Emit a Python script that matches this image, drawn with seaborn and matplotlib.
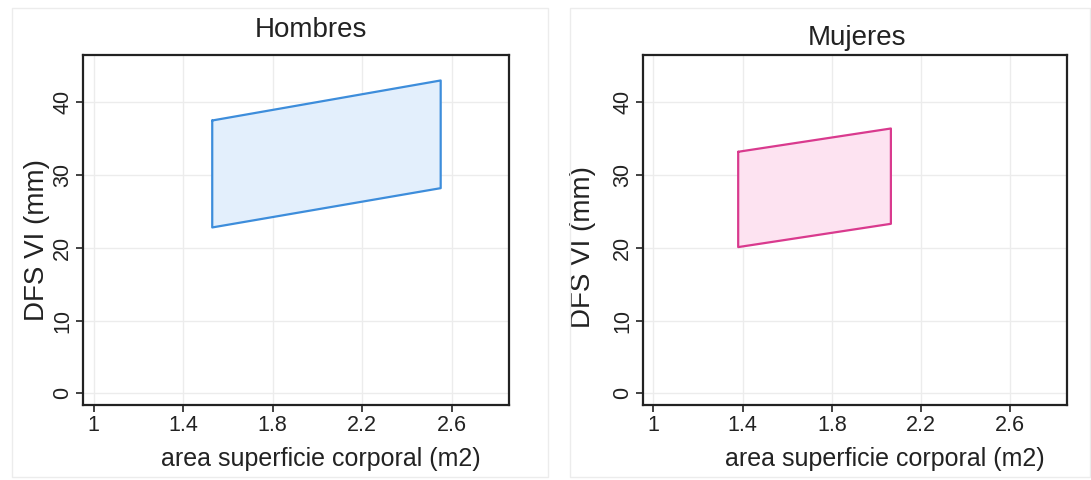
import matplotlib
matplotlib.use("Agg")
import matplotlib.pyplot as plt
import seaborn as sns
import pandas as pd
from matplotlib.patches import Rectangle

sns.set_style("white")
plt.rcParams['font.family'] = ['Liberation Sans', 'DejaVu Sans']

# Data
panels = ["Hombres", "Mujeres"]
x_hombres = [1.53, 2.55]
upper_hombres = [37.5, 43.0]
lower_hombres = [22.8, 28.2]
x_mujeres = [1.38, 2.065]
upper_mujeres = [33.2, 36.4]
lower_mujeres = [20.1, 23.3]
x_ticks = [1, 1.4, 1.8, 2.2, 2.6]
x_tick_labels = ["1", "1.4", "1.8", "2.2", "2.6"]
y_ticks = [0, 10, 20, 30, 40]
edge_colors = ["#3d8ddb", "#d93a8e"]
fill_colors = ["#e3effc", "#fde3f1"]

series = [(x_hombres, upper_hombres, lower_hombres),
          (x_mujeres, upper_mujeres, lower_mujeres)]

W, H = 1091, 480
fig = plt.figure(figsize=(W / 100, H / 100), dpi=100)

# faint outer panel borders
for (x0, y0, x1, y1) in [(12, 8, 548, 477), (570, 8, 1090, 477)]:
    fig.patches.append(Rectangle((x0 / W, 1 - y1 / H), (x1 - x0) / W, (y1 - y0) / H,
                                 transform=fig.transFigure, fill=False,
                                 edgecolor="#ececec", linewidth=1.0))

axes_px = [(83, 55, 509, 405), (643, 55, 1067, 405)]
title_px = [(311, 30), (857, 38)]
xlabel_cx = [321, 885]
ylabel_c = [(37, 240), (583, 247)]
xlabel_cy = 459

for i, (name, (xs, up, lo)) in enumerate(zip(panels, series)):
    x0, y0, x1, y1 = axes_px[i]
    aw, ah = x1 - x0, y1 - y0
    ax = fig.add_axes([x0 / W, 1 - y1 / H, aw / W, ah / H])
    px = [xs[0], xs[1], xs[1], xs[0], xs[0]]
    py = [up[0], up[1], lo[1], lo[0], up[0]]
    df = pd.DataFrame({"x": px, "y": py})
    ax.fill(df["x"], df["y"], color=fill_colors[i], zorder=2, linewidth=0)
    sns.lineplot(data=df, x="x", y="y", sort=False, estimator=None,
                 color=edge_colors[i], linewidth=1.6, ax=ax, zorder=3)
    ax.set_xlim(0.953, 2.855)
    ax.set_ylim(-1.6, 46.5)
    ax.set_xticks(x_ticks)
    ax.set_xticklabels(x_tick_labels)
    ax.set_yticks(y_ticks)
    ax.set_yticklabels([str(v) for v in y_ticks], rotation=90, va="center")
    ax.grid(True, color="#ececec", linewidth=1.0, zorder=0)
    ax.set_axisbelow(True)
    for s in ax.spines.values():
        s.set_color("#222222")
        s.set_linewidth(1.6)
    ax.tick_params(axis="both", which="both", direction="out", length=5,
                   width=1.2, color="#222222", labelsize=15.5, labelcolor="#222222",
                   bottom=True, left=True, pad=2)
    ax.set_xlabel("area superficie corporal (m2)", fontsize=18, color="#222222",
                  va="center", ha="center")
    ax.xaxis.set_label_coords((xlabel_cx[i] - x0) / aw, (y1 - xlabel_cy) / ah)
    ax.set_ylabel("DFS VI (mm)", fontsize=20, color="#222222", va="center", ha="center")
    ax.yaxis.set_label_coords((ylabel_c[i][0] - x0) / aw, (y1 - ylabel_c[i][1]) / ah)
    fig.text(title_px[i][0] / W, 1 - title_px[i][1] / H, name, ha="center", va="center",
             fontsize=20, color="#222222")

fig.savefig("out.png", dpi=100)
